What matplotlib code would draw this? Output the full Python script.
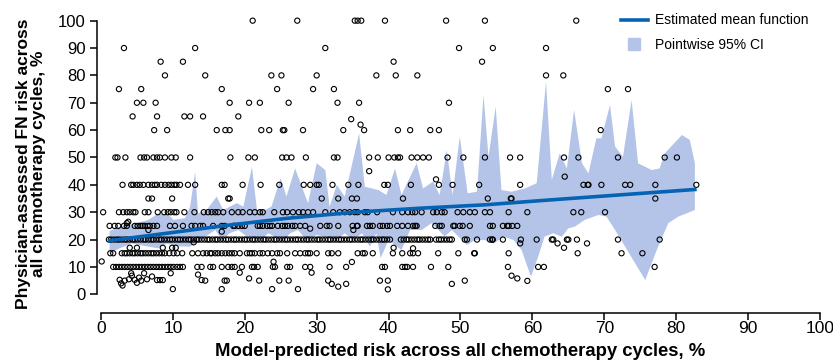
import numpy as np
import matplotlib.pyplot as plt
from matplotlib.lines import Line2D

# scatter values, grouped by physician-assessed risk level (%), x = model-predicted risk (%)
x_at_100 = [21.1, 27.3, 35.3, 35.7, 36.2, 39.5, 48.0, 53.4, 66.1]
x_at_90 = [3.2, 13.1, 31.2, 49.8, 54.5, 61.9]
x_at_85 = [8.3, 11.4, 40.7, 53.0]
x_at_80 = [8.9, 14.5, 23.7, 25.1, 30.0, 38.3, 41.0, 44.0, 61.9, 64.3]
x_at_75 = [2.5, 5.6, 16.8, 24.5, 29.5, 32.4, 70.5, 73.3]
x_at_70 = [5.0, 5.9, 7.6, 17.9, 20.6, 22.1, 26.1, 32.9, 35.9, 48.4]
x_at_65 = [4.4, 7.8, 11.6, 12.4, 14.2, 19.1]
x_at_60 = [7.4, 9.2, 16.1, 17.3, 17.9, 22.3, 23.4, 25.3, 25.5, 28.1, 33.7, 36.6,
           41.3, 43.0, 45.8, 47.0, 69.5]
x_at_50 = [2.0, 2.3, 3.4, 5.5, 6.0, 6.4, 7.3, 7.8, 8.2, 8.9, 9.8, 10.4, 12.4, 18.0,
           20.5, 21.4, 25.2, 25.8, 26.5, 28.5, 32.4, 32.9, 37.3, 38.5, 40.0, 40.8,
           41.3, 41.6, 43.2, 44.0, 44.8, 45.6, 48.2, 50.4, 53.4, 56.9, 58.3, 64.4,
           66.4, 71.9, 78.4, 80.1]
x_at_40 = [3.0, 4.2, 4.5, 5.0, 5.4, 5.9, 6.6, 7.1, 7.5, 7.8, 8.4, 8.9, 9.4, 9.8,
           10.2, 10.5, 11.0, 12.1, 13.1, 16.8, 17.2, 19.7, 22.2, 24.8, 28.2, 29.1,
           30.0, 30.3, 32.2, 34.4, 35.8, 39.4, 39.9, 43.1, 47.0, 48.9, 52.6, 58.3,
           67.1, 67.7, 67.8, 69.6, 72.9, 73.6, 77.1, 82.8]
x_at_35 = [6.6, 7.1, 9.9, 17.7, 17.9, 30.7, 33.0, 34.9, 35.6, 42.0, 53.8, 57.0, 57.1, 77.1]
x_at_30 = [0.3, 2.5, 3.1, 3.6, 4.0, 4.5, 4.8, 6.1, 6.6, 7.9, 8.8, 9.3, 9.7, 10.2,
           10.5, 11.6, 13.0, 14.3, 14.9, 15.4, 15.9, 16.3, 17.0, 18.2, 19.1, 19.7,
           20.7, 21.4, 22.1, 22.5, 24.1, 25.3, 25.9, 26.7, 27.5, 28.1, 28.8, 29.5,
           31.2, 32.3, 33.2, 33.9, 34.6, 35.3, 35.7, 36.7, 37.1, 38.4, 40.6, 41.9,
           42.7, 43.3, 43.7, 44.6, 46.2, 46.7, 47.4, 47.8, 49.6, 50.4, 51.3, 52.0,
           53.4, 54.1, 56.7, 59.3, 65.7, 66.8, 70.1]
x_at_25 = [1.2, 1.9, 2.4, 3.2, 3.6, 4.7, 5.1, 5.5, 5.8, 6.1, 6.5, 6.8, 7.3, 7.8,
           9.6, 10.3, 11.4, 12.6, 13.1, 13.8, 14.2, 15.6, 16.8, 17.2, 18.4, 18.6,
           19.1, 19.6, 20.0, 21.8, 22.1, 22.5, 23.1, 23.5, 23.8, 24.6, 25.2, 25.6,
           26.0, 26.6, 27.0, 27.7, 28.4, 30.5, 31.4, 31.8, 33.0, 35.0, 35.6, 35.7,
           37.0, 37.4, 37.8, 38.8, 39.2, 39.8, 40.2, 41.2, 41.9, 42.7, 43.4, 43.7,
           43.9, 46.5, 47.1, 47.4, 49.0, 49.2, 49.9, 50.3, 51.3, 54.1, 54.5, 55.9,
           56.5, 56.7, 57.2, 57.9]
x_at_20 = [1.1, 1.4, 1.8, 2.2, 2.5, 2.9, 3.3, 3.6, 4.0, 4.4, 4.7, 5.1, 5.5, 5.9,
           6.2, 6.6, 7.0, 7.3, 7.7, 8.1, 8.4, 8.8, 9.2, 9.6, 9.9, 10.3, 10.7, 11.0,
           11.4, 11.8, 12.2, 12.5, 12.9, 13.3, 13.6, 14.0, 14.4, 14.8, 15.1, 15.5,
           15.9, 16.2, 16.6, 17.0, 17.4, 17.7, 18.1, 18.5, 18.8, 19.2, 19.6, 20.0,
           20.3, 20.7, 21.1, 21.4, 21.8, 22.2, 22.6, 22.9, 23.3, 23.7, 24.1, 24.4,
           24.8, 25.2, 25.6, 25.9, 26.3, 26.7, 27.1, 27.4, 27.8, 28.2, 28.6, 28.9,
           29.3, 29.7, 30.1, 30.4, 30.8, 31.2, 31.6, 31.9, 32.3, 32.7, 33.1, 33.4,
           33.8, 34.2, 34.6, 34.9, 35.3, 35.7, 36.1, 36.4, 36.8, 37.2, 37.6, 37.9,
           38.3, 38.7, 39.1, 39.4, 39.8, 40.2, 41.7, 42.1, 42.5, 42.8, 43.2, 43.6,
           44.0, 44.3, 44.7, 45.1, 45.5, 45.8, 46.6, 47.0, 47.3, 47.7, 48.1, 48.5,
           48.8, 50.6, 50.9, 52.3, 54.1, 54.4, 54.5, 55.9, 58.4, 60.6, 62.7, 62.9,
           64.8, 65.0, 66.2, 71.9, 77.7]
x_at_15 = [1.3, 1.7, 2.9, 3.3, 3.6, 4.0, 4.4, 4.7, 5.1, 5.5, 5.8, 6.2, 6.6, 7.0,
           7.3, 7.7, 8.1, 8.5, 8.9, 9.5, 10.1, 10.6, 11.3, 12.7, 13.5, 14.2, 14.7,
           15.2, 15.4, 15.9, 16.3, 16.8, 17.3, 17.8, 18.2, 18.6, 19.3, 20.3, 20.7,
           21.0, 21.4, 22.1, 22.5, 23.2, 23.8, 24.5, 24.9, 25.9, 27.0, 27.7, 28.4,
           28.8, 29.1, 30.0, 31.6, 32.1, 33.0, 35.7, 36.4, 36.7, 37.8, 40.6, 41.9,
           43.0, 43.4, 44.1, 46.9, 49.7, 51.9, 52.0, 56.7, 66.3, 72.4, 75.3]
x_at_10 = [1.7, 2.1, 2.5, 2.9, 3.3, 3.7, 4.1, 4.5, 4.9, 5.3, 5.7, 6.1, 6.5, 6.9,
           7.3, 7.7, 8.1, 8.5, 8.9, 9.3, 9.7, 10.1, 10.6, 11.0, 11.4, 13.4, 14.0,
           15.2, 15.6, 16.8, 17.7, 18.2, 18.6, 19.6, 21.0, 21.3, 21.8, 23.9, 24.2,
           25.9, 26.3, 28.4, 29.1, 31.8, 34.1, 39.1, 39.5, 41.9, 42.3, 42.6, 43.4,
           45.9, 48.3, 56.6, 60.8, 61.6, 77.0]
# points off the usual levels
extra_x = [36.1, 34.8, 37.3, 64.5, 46.6, 0.1, 3.6, 3.8, 6.6, 16.8, 35.1, 29.1,
           4.0, 5.0, 8.6, 9.9, 10.4, 12.9, 40.7, 43.4, 58.3, 63.5, 64.4, 67.6,
           24.0, 34.9, 4.2, 6.0, 9.7, 19.3, 29.3, 13.5,
           2.6, 2.8, 3.0, 3.3, 3.9, 4.3, 4.7, 5.0, 5.3, 5.6, 6.4, 7.1, 7.8, 8.2, 8.6,
           14.0, 14.5, 17.2, 17.5, 20.6, 22.0, 24.8, 26.1, 31.6, 32.1, 33.0, 34.1,
           38.8, 39.9, 48.8, 50.6, 57.1, 57.9, 59.3,
           10.0, 16.8, 23.8, 27.4, 39.9]
extra_y = [62, 64, 45, 43, 42, 12, 26, 26.5, 23.5, 22.9, 23.5, 24,
           17, 17, 17, 17, 17, 19, 17, 16.8, 18.6, 18.6, 17, 18.6,
           11.9, 11.8, 7.7, 7.7, 7.7, 7.9, 7.9, 7.2,
           5.3, 4.0, 3.2, 5.0, 5.5, 6.8, 5.3, 4.2, 6.1, 5.0, 5.5, 6.5, 5.2, 5.2, 5.2,
           5.2, 5.0, 5.0, 5.0, 5.8, 5.0, 5.0, 5.0, 5.0, 3.8, 2.8, 3.8,
           5.0, 5.0, 3.8, 5.0, 6.8, 5.8, 4.9,
           1.9, 1.9, 1.9, 1.9, 1.8]

# pointwise 95% CI band
ci_upper_x = [1.2, 2.6, 5.0, 6.6, 8.0, 9.4, 10.1, 11.7, 12.4, 13.1, 13.5, 14.7, 16.1,
              17.0, 18.9, 19.8, 21.0, 21.7, 22.8, 23.7, 25.0, 25.8, 27.0, 28.8, 30.0,
              31.2, 31.8, 32.8, 33.9, 35.9, 36.7, 38.6, 39.7, 40.9, 41.8, 43.9, 44.8,
              46.2, 47.1, 48.1, 48.9, 49.9, 51.0, 52.3, 53.2, 53.9, 54.9, 55.7, 57.1,
              59.0, 60.6, 61.9, 62.7, 63.8, 64.8, 65.8, 66.9, 67.8, 68.9, 69.6, 70.8,
              71.5, 72.6, 73.8, 74.7, 76.6, 77.7, 78.4, 80.8, 81.9, 82.6]
ci_upper_y = [23.1, 24.7, 26.0, 27.2, 29.6, 29.0, 27.2, 27.8, 32.0, 44.8, 29.6, 30.8,
              35.7, 30.8, 33.3, 32.0, 46.6, 30.8, 30.8, 32.0, 42.4, 35.7, 46.0, 33.3,
              47.9, 45.4, 32.0, 40.0, 35.7, 58.8, 39.3, 38.1, 36.3, 46.0, 36.3, 47.9,
              38.7, 41.2, 36.3, 52.7, 36.3, 57.6, 36.9, 37.5, 72.8, 50.3, 68.6, 38.1,
              37.5, 38.7, 40.6, 77.7, 41.8, 51.5, 46.0, 67.4, 47.9, 44.2, 57.0, 57.0,
              69.2, 54.0, 50.3, 71.0, 47.9, 45.4, 46.0, 51.5, 58.2, 56.4, 47.9]
ci_lower_x = [1.2, 2.6, 4.3, 5.4, 7.9, 9.1, 11.0, 12.4, 13.8, 15.9, 16.8, 17.9, 19.1,
              20.3, 22.1, 23.3, 25.4, 26.3, 27.4, 28.6, 30.0, 32.8, 33.9, 35.1, 36.3,
              37.4, 38.3, 38.9, 40.0, 41.8, 43.0, 44.6, 46.0, 47.8, 48.8, 50.9, 52.0,
              53.4, 54.6, 56.0, 57.4, 58.5, 59.8, 60.8, 61.7, 62.9, 64.1, 65.0, 65.9,
              67.3, 69.2, 70.3, 71.5, 75.7, 77.3, 78.9, 80.3, 82.6]
ci_lower_y = [15.0, 16.8, 18.6, 18.0, 16.8, 18.5, 17.5, 17.4, 19.8, 23.5, 19.8, 22.3,
              23.5, 21.1, 19.8, 22.3, 19.2, 22.3, 23.5, 19.8, 21.7, 19.8, 22.3, 19.8,
              22.3, 17.4, 22.3, 13.2, 19.8, 16.2, 23.5, 23.5, 26.0, 21.1, 23.5, 18.0,
              19.8, 19.8, 18.6, 21.1, 19.8, 16.2, 6.4, 13.7, 21.1, 22.3, 21.1, 24.1,
              24.7, 27.2, 29.0, 28.4, 23.5, 5.2, 16.2, 26.0, 28.4, 30.8]

# estimated mean function
mean_x = [1.2, 10.0, 17.2, 26.0, 35.3, 44.0, 53.4, 62.0, 71.5, 82.6]
mean_y = [19.6, 22.6, 25.1, 27.8, 30.0, 31.4, 32.7, 34.4, 36.2, 38.3]

levels = [(100, x_at_100), (90, x_at_90), (85, x_at_85), (80, x_at_80), (75, x_at_75),
          (70, x_at_70), (65, x_at_65), (60, x_at_60), (50, x_at_50), (40, x_at_40),
          (35, x_at_35), (30, x_at_30), (25, x_at_25), (20, x_at_20), (15, x_at_15),
          (10, x_at_10)]
xs = np.concatenate([np.array(v) for _, v in levels] + [np.array(extra_x)])
ys = np.concatenate([np.full(len(v), lv, dtype=float) for lv, v in levels] + [np.array(extra_y)])

band_col = '#b4c4e8'
line_col = '#0563b4'
sans = ['Liberation Sans', 'DejaVu Sans']

fig = plt.figure(figsize=(8.33, 3.6), dpi=100)
ax = fig.add_axes([0.1164, 0.1306, 0.8723, 0.8272])

ax.fill(np.concatenate([ci_upper_x, ci_lower_x[::-1]]),
        np.concatenate([ci_upper_y, ci_lower_y[::-1]]),
        color=band_col, lw=0, zorder=1)
ax.scatter(xs, ys, s=14, facecolors='none', edgecolors='black', linewidths=0.8, zorder=2)
ax.plot(mean_x, mean_y, color=line_col, lw=2.6, zorder=3)

ax.set_xlim(-0.556, 100.5)
ax.set_ylim(-6.83, 102)
ax.spines['top'].set_visible(False)
ax.spines['right'].set_visible(False)
ax.spines['left'].set_bounds(0, 100)
ax.spines['bottom'].set_bounds(0, 100)
for s in ['left', 'bottom']:
    ax.spines[s].set_linewidth(1.1)
ax.set_xticks(np.arange(0, 101, 10))
ax.set_yticks(np.arange(0, 101, 10))
ax.tick_params(direction='out', length=5, width=1.1)
ax.tick_params(axis='y', pad=3)
ax.tick_params(axis='x', pad=1)
for t in ax.get_yticklabels():
    t.set_fontfamily(sans)
    t.set_fontsize(12)
for t in ax.get_xticklabels():
    t.set_fontfamily(sans)
    t.set_fontsize(12.5)

ax.set_xlabel('Model-predicted risk across all chemotherapy cycles, %',
              family=sans, fontsize=13.3, fontweight='bold')
ax.xaxis.set_label_coords(0.5, -0.1)
ax.set_ylabel('Physician-assessed FN risk across\nall chemotherapy cycles, %',
              family=sans, fontsize=12.5, fontweight='bold', labelpad=9,
              linespacing=1.0)

handles = [Line2D([], [], color=line_col, lw=2.6),
           Line2D([], [], color=band_col, marker='s', markersize=9, linestyle='none')]
ax.legend(handles, ['Estimated mean function', 'Pointwise 95% CI'],
          loc='upper left', bbox_to_anchor=(608 / 833, 1 - 1 / 360),
          bbox_transform=fig.transFigure, frameon=False, handlelength=2.0,
          handletextpad=0.5, labelspacing=0.75,
          prop={'family': sans, 'size': 10})

fig.savefig('out.png', dpi=100)
